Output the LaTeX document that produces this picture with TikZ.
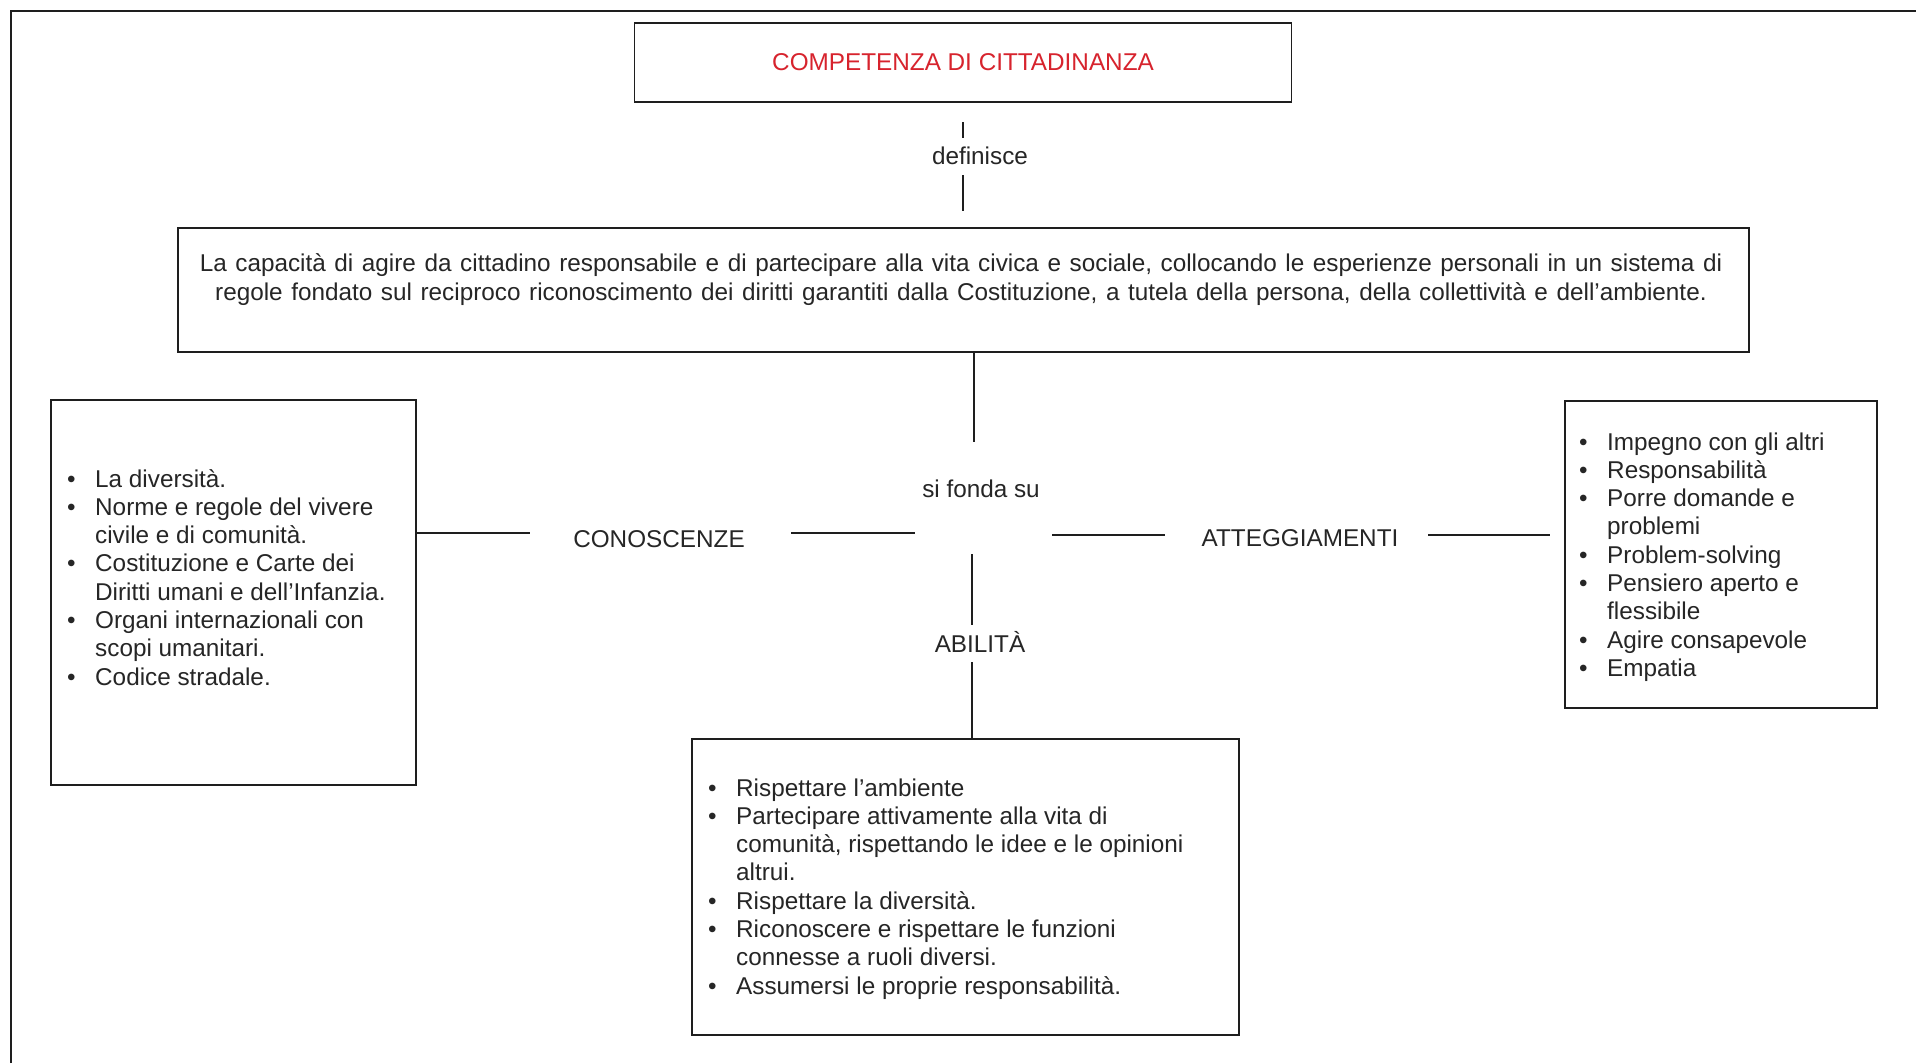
\documentclass[tikz,border=0pt]{standalone}
\usepackage{fontspec}
\setmainfont{Liberation Sans}
\definecolor{txt}{RGB}{38,38,38}
\definecolor{titlered}{RGB}{215,35,45}
\definecolor{ln}{RGB}{30,30,30}
\newcommand{\lbul}{\makebox[28pt][l]{•}}
\newcommand{\lcnt}{\hspace*{28pt}}
\newcommand{\widesp}{\spaceskip=8.6pt plus 1pt minus 1pt\relax}
\begin{document}
\begin{tikzpicture}[x=1pt,y=-1pt,
  box/.style={draw=ln, line width=1.8pt, rectangle, inner sep=0pt},
  txtnode/.style={inner sep=0pt, text=txt, font=\fontsize{24.3}{28.3}\selectfont},
  conn/.style={draw=ln, line width=1.6pt}]
\useasboundingbox (0,0) rectangle (1916,1063);
\fill[white] (0,0) rectangle (1916,1063);
\draw[line width=2.6pt, ln] (11,1063) -- (11,11) -- (1916,11);

% boxes
\node[box, minimum width=657pt, minimum height=79pt, text=titlered,
      font=\fontsize{24.3}{28.3}\selectfont] (top) at (963,62.5) {COMPETENZA DI CITTADINANZA};
\node[box, minimum width=1571pt, minimum height=124pt] (big) at (963.5,290) {};
\node[box, minimum width=365pt, minimum height=385pt] (left) at (233.5,592.5) {};
\node[box, minimum width=312pt, minimum height=307pt] (right) at (1721,554.5) {};
\node[box, minimum width=547pt, minimum height=296pt] (bottom) at (965.5,887) {};

% texts
\node[txtnode, anchor=base, font=\fontsize{24.3}{29}\selectfont\widesp] (bigtxt) at (961,271)
  {\begin{tabular}[t]{@{}c@{}}La capacità di agire da cittadino responsabile e di partecipare alla vita civica e sociale, collocando le esperienze personali in un sistema di\\
  regole fondato sul reciproco riconoscimento dei diritti garantiti dalla Costituzione, a tutela della persona, della collettività e dell’ambiente.\end{tabular}};

\node[txtnode, anchor=base west] (lefttxt) at (67,487)
  {\begin{tabular}[t]{@{}l@{}}
  \lbul La diversità.\\
  \lbul Norme e regole del vivere\\
  \lcnt civile e di comunità.\\
  \lbul Costituzione e Carte dei\\
  \lcnt Diritti umani e dell’Infanzia.\\
  \lbul Organi internazionali con\\
  \lcnt scopi umanitari.\\
  \lbul Codice stradale.
  \end{tabular}};

\node[txtnode, anchor=base west] (righttxt) at (1579,450)
  {\begin{tabular}[t]{@{}l@{}}
  \lbul Impegno con gli altri\\
  \lbul Responsabilità\\
  \lbul Porre domande e\\
  \lcnt problemi\\
  \lbul Problem-solving\\
  \lbul Pensiero aperto e\\
  \lcnt flessibile\\
  \lbul Agire consapevole\\
  \lbul Empatia
  \end{tabular}};

\node[txtnode, anchor=base west] (bottomtxt) at (708,796)
  {\begin{tabular}[t]{@{}l@{}}
  \lbul Rispettare l’ambiente\\
  \lbul Partecipare attivamente alla vita di\\
  \lcnt comunità, rispettando le idee e le opinioni\\
  \lcnt altrui.\\
  \lbul Rispettare la diversità.\\
  \lbul Riconoscere e rispettare le funzioni\\
  \lcnt connesse a ruoli diversi.\\
  \lbul Assumersi le proprie responsabilità.
  \end{tabular}};

% labels
\node[txtnode, anchor=base] (def) at (980,164) {definisce};
\node[txtnode, anchor=base] (fonda) at (981,497) {si fonda su};
\node[txtnode, anchor=base] (con) at (659,547) {CONOSCENZE};
\node[txtnode, anchor=base] (att) at (1300,546) {ATTEGGIAMENTI};
\node[txtnode, anchor=base] (abi) at (980,652) {ABILITÀ};

% connectors
\coordinate (d1) at (963,122); \coordinate (d2) at (963,138);
\coordinate (d3) at (963,175); \coordinate (d4) at (963,211);
\draw[conn] (d1) -- (d2);
\draw[conn] (d3) -- (d4);
\coordinate (s1) at (974,442);
\draw[conn] (big.south -| s1) -- (s1);
\coordinate (c1) at (530,533);
\draw[conn] (left.east |- c1) -- (c1);
\coordinate (c2) at (791,533); \coordinate (c3) at (915,533);
\draw[conn] (c2) -- (c3);
\coordinate (a1) at (1052,535); \coordinate (a2) at (1165,535);
\draw[conn] (a1) -- (a2);
\coordinate (a3) at (1428,535); \coordinate (a4) at (1550,535);
\draw[conn] (a3) -- (a4);
\coordinate (v1) at (972,554); \coordinate (v2) at (972,625);
\draw[conn] (v1) -- (v2);
\coordinate (v3) at (972,662);
\draw[conn] (v3) -- (bottom.north -| v3);
\end{tikzpicture}
\end{document}
